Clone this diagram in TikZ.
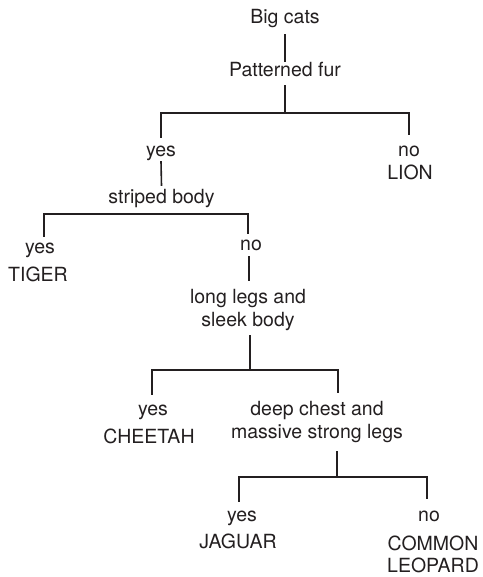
\documentclass[tikz,border=0pt]{standalone}
\usepackage{fontspec}
\setmainfont{TeX Gyre Heros}
\definecolor{ink}{HTML}{231F20}
\tikzset{
  lbl/.style={anchor=base, inner sep=0pt, text height=14pt, text depth=4pt, text=ink,
    font=\fontsize{19.5}{23}\selectfont},
  conn/.style={draw=ink, line width=1.6pt}
}
\begin{document}
\begin{tikzpicture}[x=1pt,y=-1pt]
\useasboundingbox (0,0) rectangle (482,577);
% texts
\node[lbl] (bc) at (285,23.5) {Big cats};
\node[lbl] (pf) at (285,76.5) {Patterned fur};
\node[lbl] (y1) at (161,157) {yes};
\node[lbl] (n1) at (409,157) {no};
\node[lbl] (lion) at (410,180) {LION};
\node[lbl] (sb) at (161.5,204) {striped body};
\node[lbl] (y2) at (40,253) {yes};
\node[lbl] (tiger) at (38,281) {TIGER};
\node[lbl] (n2) at (251,250) {no};
\node[lbl] (ll) at (248,303) {long legs and};
\node[lbl] (sl) at (248,326) {sleek body};
\node[lbl] (y3) at (153,415) {yes};
\node[lbl] (cheetah) at (149,443) {CHEETAH};
\node[lbl] (dc) at (317,415) {deep chest and};
\node[lbl] (ms) at (317,438) {massive strong legs};
\node[lbl] (y4) at (242,521) {yes};
\node[lbl] (jaguar) at (238,548) {JAGUAR};
\node[lbl] (n4) at (429,521) {no};
\node[lbl] (common) at (433,550) {COMMON};
\node[lbl] (leopard) at (433,572) {LEOPARD};
% junctions
\coordinate (j1) at (285,113);
\coordinate (j2) at (248,214);
\coordinate (j3) at (250,370);
\coordinate (j4) at (337,477);
% connectors
\draw[conn] ([yshift=-6.5pt]bc.south) -- (pf.north);
\draw[conn] ([yshift=-4.5pt]pf.south) -- (j1);
\draw[conn] ([yshift=5pt]y1.north) |- (j1) -| ([yshift=8pt]n1.north);
\draw[conn] (y1.south) -- ([yshift=4pt]sb.north);
\draw[conn] ([xshift=4pt,yshift=2pt]y2.north) |- (j2) -- ([xshift=-3pt,yshift=2pt]n2.north);
\draw[conn] ([xshift=-2pt,yshift=-2pt]n2.south) -- ([xshift=1pt,yshift=8pt]ll.north);
\draw[conn] ([xshift=2pt,yshift=-5pt]sl.south) -- (j3);
\draw[conn] ([xshift=-1pt,yshift=6pt]y3.north) |- (j3) -| ([xshift=21pt,yshift=8pt]dc.north);
\draw[conn] ([xshift=20pt,yshift=-9pt]ms.south) -- (j4);
\draw[conn] ([xshift=-3pt,yshift=5pt]y4.north) |- (j4) -| ([xshift=-2pt,yshift=8pt]n4.north);
\end{tikzpicture}
\end{document}
